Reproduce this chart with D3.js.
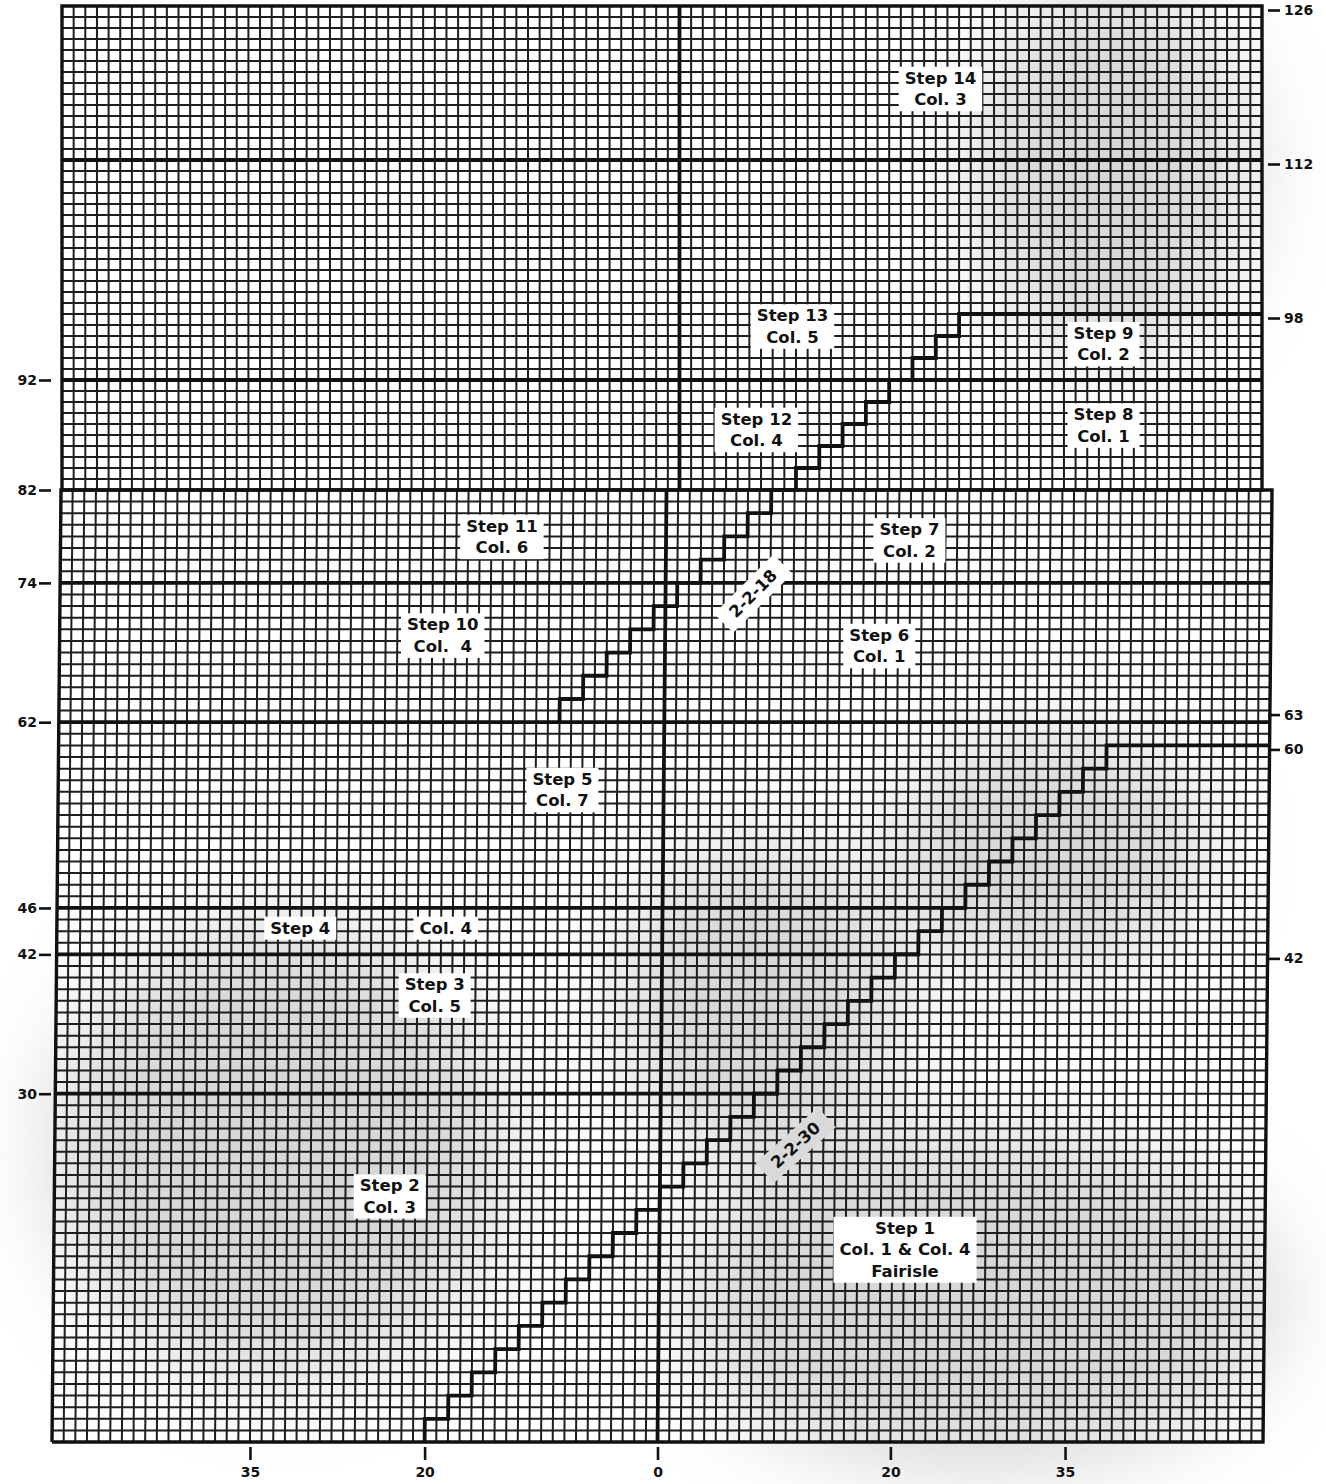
<!DOCTYPE html>
<html>
<head>
<meta charset="utf-8">
<script src="https://cdn.jsdelivr.net/npm/d3@7"></script>
<style>
  body { margin: 0; background: #fff; }
  svg { display: block; }
  .tick text { font-family: 'DejaVu Sans', sans-serif; font-weight: bold; font-size: 14px; fill: #111; }
  .tick line { stroke: #111; stroke-width: 2.6; }
  .note { font-family: 'DejaVu Sans', sans-serif; font-weight: bold; font-size: 16.5px; fill: #111; }
</style>
</head>
<body>
<svg id="chart"></svg>
<script>
const W = 1326, H = 1484

// rows and stitches of the two chart pieces
const lowerRows = [0, 82]
const upperRows = [82, 126]
const lowerCols = [-52, 52]
const upperCols = [-52, 51]
const upperDividerCol = 1

// axis labels
const leftTicks = [30, 42, 46, 62, 74, 82, 92]
const rightTicks = [42, 60, 63, 98, 112, 126]
const bottomTicks = [-35, -20, 0, 20, 35]

// thick rules
const lowerLeftRules = [30, 42, 46]   // from the edge to the staircase
const lowerFullRules = [62, 74]
const upperFullRules = [92, 112]

// staircases: start stitch / row, number of 2-row 2-stitch steps
const stairA = { col: -20, row: 0, steps: 30 }
const stairB = { col: -9, row: 62, steps: 18 }

// text in the chart
const upperNotes = [
  { lines: ['Step 14', 'Col. 3'], col: 23.4, row: 118.5 },
  { lines: ['Step 13', 'Col. 5'], col: 10.7, row: 96.9 },
  { lines: ['Step 9', 'Col. 2'], col: 37.4, row: 95.3 },
  { lines: ['Step 12', 'Col. 4'], col: 7.6, row: 87.5 },
  { lines: ['Step 8', 'Col. 1'], col: 37.4, row: 87.9 },
]
const lowerNotes = [
  { lines: ['Step 11', 'Col. 6'], col: -14.1, row: 78 },
  { lines: ['Step 7', 'Col. 2'], col: 20.9, row: 77.7 },
  { lines: ['Step 10', 'Col.  4'], col: -19.1, row: 69.5 },
  { lines: ['Step 6', 'Col. 1'], col: 18.4, row: 68.6 },
  { lines: ['Step 5', 'Col. 7'], col: -8.7, row: 56.2 },
  { lines: ['Step 4'], col: -31.1, row: 44.3 },
  { lines: ['Col. 4'], col: -18.6, row: 44.3 },
  { lines: ['Step 3', 'Col. 5'], col: -19.5, row: 38.5 },
  { lines: ['Step 2', 'Col. 3'], col: -23.2, row: 21.2 },
  { lines: ['Step 1', 'Col. 1 & Col. 4', 'Fairisle'], col: 21.1, row: 16.6 },
]
const stairNotes = [
  { text: '2-2-30', col: 11.6, row: 25.6, angle: -42, fill: '#d9d9d9' },
  { text: '2-2-18', col: 7.5, row: 73.1, angle: -45, fill: '#fff' },
]

const svg = d3.select('#chart').attr('width', W).attr('height', H)

const y = d3.scaleLinear().domain([lowerRows[0], lowerRows[1], upperRows[1]]).range([1442, 490, 6])
const xLow = d3.scaleLinear().domain(lowerCols).range([52, 1263])
const xUp = d3.scaleLinear().domain(upperCols).range([62, 1262])
const SKEW = 0.11   // scan lean of the lower piece, px per row

const pLow = (c, r) => [xLow(c) + SKEW * r, y(r)]
const pUp = (c, r) => [xUp(c), y(r)]

// paper shading
const defs = svg.append('defs')
defs.append('filter').attr('id', 'blur')
  .attr('x', '-50%').attr('y', '-50%').attr('width', '200%').attr('height', '200%')
  .append('feGaussianBlur').attr('stdDeviation', 45)

const shade = svg.append('g').attr('filter', 'url(#blur)').attr('fill', '#a8a8a8').attr('opacity', 0.45)
shade.append('ellipse').attr('cx', 1110).attr('cy', 170).attr('rx', 140).attr('ry', 190)
shade.append('ellipse').attr('cx', 980).attr('cy', 1300).attr('rx', 300).attr('ry', 170)
shade.append('ellipse').attr('cx', 280).attr('cy', 1150).attr('rx', 230).attr('ry', 230)
shade.append('ellipse').attr('cx', 760).attr('cy', 1000).attr('rx', 140).attr('ry', 160)
shade.append('ellipse').attr('cx', 1050).attr('cy', 850).attr('rx', 160).attr('ry', 120)

// segment helpers
const seg = (map, a, b) => [map(a[0], a[1]), map(b[0], b[1])]
const segPath = s => `M${s[0][0]},${s[0][1]}L${s[1][0]},${s[1][1]}`

// thin grid
const thin = []
d3.range(lowerCols[0], lowerCols[1] + 1).forEach(c => thin.push(seg(pLow, [c, lowerRows[0]], [c, lowerRows[1]])))
d3.range(lowerRows[0], lowerRows[1] + 1).forEach(r => thin.push(seg(pLow, [lowerCols[0], r], [lowerCols[1], r])))
d3.range(upperCols[0], upperCols[1] + 1).forEach(c => thin.push(seg(pUp, [c, upperRows[0]], [c, upperRows[1]])))
d3.range(upperRows[0], upperRows[1] + 1).forEach(r => thin.push(seg(pUp, [upperCols[0], r], [upperCols[1], r])))

svg.append('path')
  .attr('d', thin.map(segPath).join(''))
  .attr('stroke', '#1e1e1e')
  .attr('stroke-width', 2)
  .attr('fill', 'none')

// staircase points
function stairPoints(s) {
  const pts = [[s.col, s.row]]
  for (let k = 0; k < s.steps; k++) {
    const c = s.col + 2 * k, r = s.row + 2 * k
    pts.push([c, r + 2], [c + 2, r + 2])
  }
  return pts
}
const stairColAt = (s, r) => s.col + (r - s.row)

// thick rules
const thick = []
lowerLeftRules.forEach(r => thick.push(seg(pLow, [lowerCols[0], r], [stairColAt(stairA, r), r])))
lowerFullRules.forEach(r => thick.push(seg(pLow, [lowerCols[0], r], [lowerCols[1], r])))
upperFullRules.forEach(r => thick.push(seg(pUp, [upperCols[0], r], [upperCols[1], r])))
const aTop = stairA.row + 2 * stairA.steps
thick.push(seg(pLow, [stairColAt(stairA, aTop), aTop], [lowerCols[1], aTop]))
const bTop = stairB.row + 2 * stairB.steps
thick.push(seg(pUp, [stairColAt(stairB, bTop), bTop], [upperCols[1], bTop]))
thick.push(seg(pLow, [0, lowerRows[0]], [0, lowerRows[1]]))
thick.push(seg(pUp, [upperDividerCol, upperRows[0]], [upperDividerCol, upperRows[1]]))

const ink = svg.append('g').attr('fill', 'none').attr('stroke', '#111').attr('stroke-linejoin', 'miter')

ink.append('path').attr('d', thick.map(segPath).join('')).attr('stroke-width', 3.8)

const lineOf = map => d3.line().x(d => map(d[0], d[1])[0]).y(d => map(d[0], d[1])[1])

// outlines
const box = (cols, rows) => [[cols[0], rows[0]], [cols[1], rows[0]], [cols[1], rows[1]], [cols[0], rows[1]], [cols[0], rows[0]]]
ink.append('path').attr('d', lineOf(pLow)(box(lowerCols, lowerRows))).attr('stroke-width', 3.4)
ink.append('path').attr('d', lineOf(pUp)(box(upperCols, upperRows))).attr('stroke-width', 3.4)

// staircases
const ptsA = stairPoints(stairA)
ink.append('path').attr('d', lineOf(pLow)(ptsA)).attr('stroke-width', 3.8)
const ptsB = stairPoints(stairB)
ink.append('path').attr('d', lineOf(pLow)(ptsB.filter(p => p[1] <= lowerRows[1]))).attr('stroke-width', 3.8)
ink.append('path').attr('d', lineOf(pUp)(ptsB.filter(p => p[1] >= upperRows[0]).slice(1))).attr('stroke-width', 3.8)

// notes
const LH = 21.5
function drawNote(d, map) {
  const [cx, cy] = map(d.col, d.row)
  const g = svg.append('g').attr('transform', `translate(${cx},${cy})`)
  const n = d.lines.length
  const t = g.append('text').attr('class', 'note').attr('text-anchor', 'middle').style('white-space', 'pre')
  d.lines.forEach((s, i) => {
    t.append('tspan').attr('x', 0).attr('y', (i - (n - 1) / 2) * LH + 6).text(s)
  })
  const bb = t.node().getBBox()
  g.insert('rect', 'text')
    .attr('x', bb.x - 6).attr('y', bb.y - 2)
    .attr('width', bb.width + 12).attr('height', bb.height + 4)
    .attr('fill', '#fff')
}
upperNotes.forEach(d => drawNote(d, pUp))
lowerNotes.forEach(d => drawNote(d, pLow))

stairNotes.forEach(d => {
  const [cx, cy] = pLow(d.col, d.row)
  const g = svg.append('g').attr('transform', `translate(${cx},${cy}) rotate(${d.angle})`)
  const t = g.append('text').attr('class', 'note').attr('text-anchor', 'middle').attr('y', 6).text(d.text)
  const bb = t.node().getBBox()
  g.insert('rect', 'text')
    .attr('x', bb.x - 12).attr('y', bb.y - 4)
    .attr('width', bb.width + 24).attr('height', bb.height + 8)
    .attr('fill', d.fill)
})

// axes
const styleAxis = g => { g.select('.domain').remove() }

svg.append('g')
  .attr('transform', 'translate(51,0)')
  .call(d3.axisLeft(y).tickValues(leftTicks).tickSize(12).tickPadding(2))
  .call(styleAxis)

svg.append('g')
  .attr('transform', 'translate(1268,4)')
  .call(d3.axisRight(y).tickValues(rightTicks).tickSize(12).tickPadding(4))
  .call(styleAxis)

svg.append('g')
  .attr('transform', `translate(0,${y(0) + 5})`)
  .call(d3.axisBottom(xLow).tickValues(bottomTicks).tickFormat(d => Math.abs(d)).tickSize(13).tickPadding(7))
  .call(styleAxis)
</script>
</body>
</html>
